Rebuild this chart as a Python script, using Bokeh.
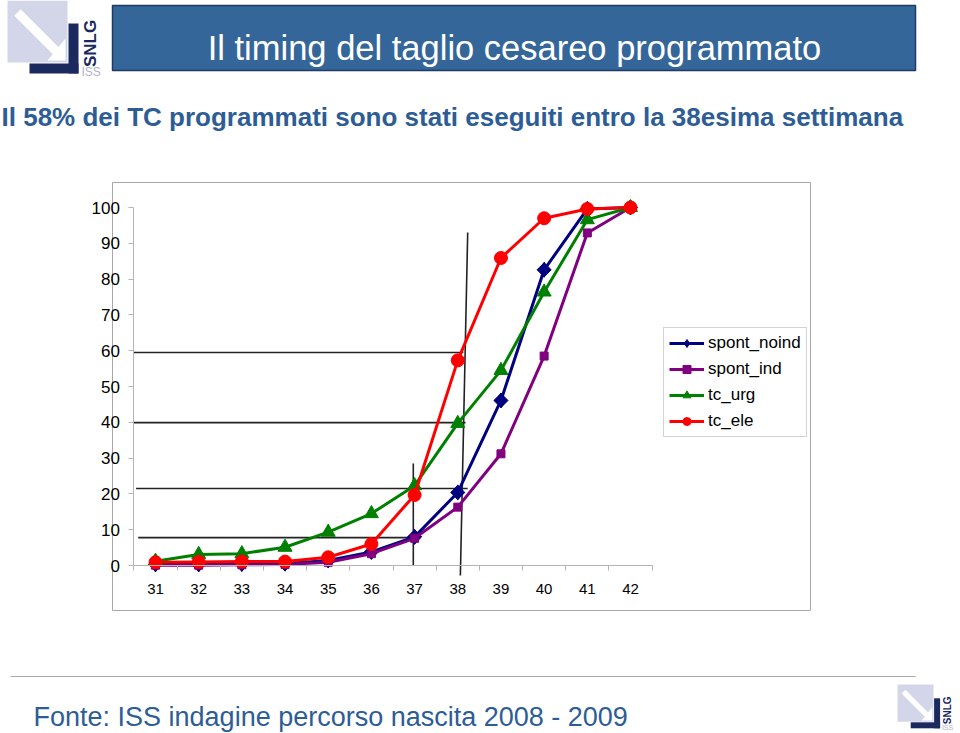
import math
from bokeh.plotting import figure
from bokeh.models import Range1d, FixedTicker, Legend, LegendItem
from bokeh.core.properties import value
from bokeh.embed import file_html
from bokeh.resources import INLINE

# ---------------- data ----------------
weeks = [31, 32, 33, 34, 35, 36, 37, 38, 39, 40, 41, 42]
week_labels = ["31", "32", "33", "34", "35", "36", "37", "38", "39", "40", "41", "42"]
spont_noind = [0.3, 0.3, 0.4, 0.5, 1.4, 3.8, 8.0, 20.4, 46.1, 82.6, 99.6, 100.0]
spont_ind = [0.1, 0.1, 0.2, 0.3, 0.9, 3.3, 7.6, 16.3, 31.2, 58.5, 92.9, 100.0]
tc_urg = [1.2, 3.1, 3.3, 5.1, 9.3, 14.5, 22.3, 39.7, 54.5, 76.4, 96.6, 100.0]
tc_ele = [0.9, 1.0, 1.1, 1.1, 2.3, 6.0, 19.7, 57.3, 85.9, 97.0, 99.6, 100.0]
y_ticks = [0, 10, 20, 30, 40, 50, 60, 70, 80, 90, 100]

# reference (guide) lines drawn on the chart, in data units
guide_h_y = [59.5, 39.9, 21.5, 7.8]
guide_h_x0 = [30.5, 30.5, 30.55, 30.6]
guide_h_x1 = [38.13, 38.18, 38.23, 36.97]
guide_v_x0 = [38.23, 36.97]
guide_v_y0 = [93.0, 28.5]
guide_v_x1 = [38.06, 36.97]
guide_v_y1 = [-2.8, 0.0]

title_text = "Il timing del taglio cesareo programmato"
subtitle_text = "Il 58% dei TC programmati sono stati eseguiti entro la 38esima settimana"
footer_text = "Fonte: ISS indagine percorso nascita 2008 - 2009"

# ---------------- layout (pixel geometry of the page) ----------------
W, H = 960, 733
px_x31, px_x42 = 155.0, 630.0
px_y0, px_y100 = 565.0, 207.0
sx = (px_x42 - px_x31) / 11.0
sy = (px_y0 - px_y100) / 100.0
x_start = 31 - px_x31 / sx
x_end = x_start + W / sx
y_start = -(H - px_y0) / sy
y_end = y_start + H / sy

FONT_NAME = "Liberation Sans"
FONT = value(FONT_NAME)
BLUE_TXT = "#2E5D96"

p = figure(width=W, height=H, x_range=Range1d(x_start, x_end), y_range=Range1d(y_start, y_end),
           output_backend="svg", toolbar_location=None, tools="", min_border=0)
p.title.visible = False
p.outline_line_color = None
p.grid.visible = False
p.background_fill_color = "white"
p.border_fill_color = "white"
p.extra_x_ranges = {"px": Range1d(0, W)}
p.extra_y_ranges = {"px": Range1d(H, 0)}
PX = dict(x_range_name="px", y_range_name="px")

# chart box
p.quad(left=[112], right=[810], top=[182], bottom=[610], fill_color="white",
       line_color="#A8A8A8", line_width=1, **PX)

# banner
p.quad(left=[112], right=[915], top=[5], bottom=[70], fill_color="#346699",
       line_color="#1F3B63", line_width=1.5, **PX)
p.text(x=[514], y=[47], text=[title_text], text_font=FONT, text_font_size="34.5px",
       text_color="white", text_align="center", text_baseline="middle", **PX)

# subtitle
p.text(x=[1], y=[116], text=[subtitle_text], text_font=FONT, text_font_size="26px",
       text_font_style="bold", text_color=BLUE_TXT, text_align="left",
       text_baseline="middle", **PX)

# footer separator and footer
p.segment(x0=[10], y0=[676], x1=[915], y1=[676], line_color="#A8A8A8", line_width=1, **PX)
p.text(x=[33], y=[716], text=[footer_text], text_font=FONT, text_font_size="27px",
       text_color=BLUE_TXT, text_align="left", text_baseline="middle", **PX)

# logos
LAV = "#D3D6E9"
NAVY = "#1A2A5E"
def logo(x0, y0, s):
    p.quad(left=[x0], right=[x0 + 60 * s], top=[y0], bottom=[y0 + 62 * s],
           fill_color=LAV, line_color=None, **PX)
    p.segment(x0=[x0 + 10 * s], y0=[y0 + 12 * s], x1=[x0 + 52 * s], y1=[y0 + 54 * s],
              line_color="white", line_width=9 * s, **PX)
    p.patch(x=[x0 + 58 * s, x0 + 58 * s, x0 + 40 * s], y=[y0 + 38 * s, y0 + 60 * s, y0 + 60 * s],
            fill_color="white", line_color=None, **PX)
    p.quad(left=[x0 + 61 * s], right=[x0 + 71 * s], top=[y0 + 23 * s], bottom=[y0 + 73 * s],
           fill_color=NAVY, line_color=None, **PX)
    p.quad(left=[x0 + 22 * s], right=[x0 + 71 * s], top=[y0 + 63 * s], bottom=[y0 + 73 * s],
           fill_color=NAVY, line_color=None, **PX)
    p.text(x=[x0 + 83 * s], y=[y0 + 43 * s], text=["SNLG"], text_font=FONT,
           text_font_size=f"{round(17 * s)}px", text_font_style="bold", text_color=NAVY,
           angle=math.pi / 2, text_align="center", text_baseline="middle", **PX)
    p.text(x=[x0 + 74 * s], y=[y0 + 71 * s], text=["ISS"], text_font=FONT,
           text_font_size=f"{round(12 * s)}px", text_color="#AEB2CC",
           text_align="left", text_baseline="middle", **PX)

logo(7, 0, 1.0)
logo(897, 684, 0.6)

# guide lines (under the series)
p.segment(x0=guide_h_x0, y0=guide_h_y, x1=guide_h_x1, y1=guide_h_y,
          line_color="#222222", line_width=1.6)
p.segment(x0=guide_v_x0, y0=guide_v_y0, x1=guide_v_x1, y1=guide_v_y1,
          line_color="#222222", line_width=1.6)

# series
series = [
    ("spont_noind", spont_noind, "#000080", "diamond", 15),
    ("spont_ind", spont_ind, "#800080", "square", 8),
    ("tc_urg", tc_urg, "#008000", "triangle", 14),
    ("tc_ele", tc_ele, "#FF0000", "circle", 13),
]
items = []
for name, vals, col, mk, sz in series:
    rl = p.line(weeks, vals, line_color=col, line_width=3)
    rs = p.scatter(weeks, vals, marker=mk, size=sz, fill_color=col, line_color=col)
    if mk == "diamond":
        # square-shaped diamond marker on the chart (covers the legend diamond)
        p.scatter(weeks, vals, marker="square", angle=math.pi / 4, size=10,
                  fill_color=col, line_color=col)
    items.append(LegendItem(label=name, renderers=[rl, rs]))

legend = Legend(items=items, location=(663, 296), padding=5, spacing=6, margin=0,
                glyph_width=35, glyph_height=20, label_height=20, label_standoff=4,
                label_text_font=FONT_NAME, label_text_font_size="17px", label_text_color="black",
                border_line_color="#A8A8A8", border_line_width=1,
                background_fill_color="white", background_fill_alpha=1.0)
p.add_layout(legend)

# axes
xa = p.xaxis[0]
xa.fixed_location = 0
xa.bounds = (30.5, 42.5)
xa.ticker = FixedTicker(ticks=weeks, minor_ticks=[w - 0.5 for w in weeks] + [42.5])
xa.major_label_overrides = {w: l for w, l in zip(weeks, week_labels)}
xa.major_tick_in = 0
xa.major_tick_out = 0
xa.minor_tick_in = 0
xa.minor_tick_out = 5
xa.axis_line_color = "#B4B4B4"
xa.minor_tick_line_color = "#B4B4B4"
xa.major_tick_line_color = None
xa.major_label_standoff = 13
xa.major_label_text_font = FONT_NAME
xa.major_label_text_font_size = "15px"
xa.major_label_text_color = "black"

ya = p.yaxis[0]
ya.fixed_location = 30.5
ya.bounds = (0, 100)
ya.ticker = FixedTicker(ticks=y_ticks, minor_ticks=[])
ya.major_tick_in = 0
ya.major_tick_out = 5
ya.axis_line_color = "#B4B4B4"
ya.major_tick_line_color = "#B4B4B4"
ya.minor_tick_line_color = None
ya.major_label_standoff = 9
ya.major_label_text_font = FONT_NAME
ya.major_label_text_font_size = "17px"
ya.major_label_text_color = "black"

open("out.html", "w").write(file_html(p, INLINE))
